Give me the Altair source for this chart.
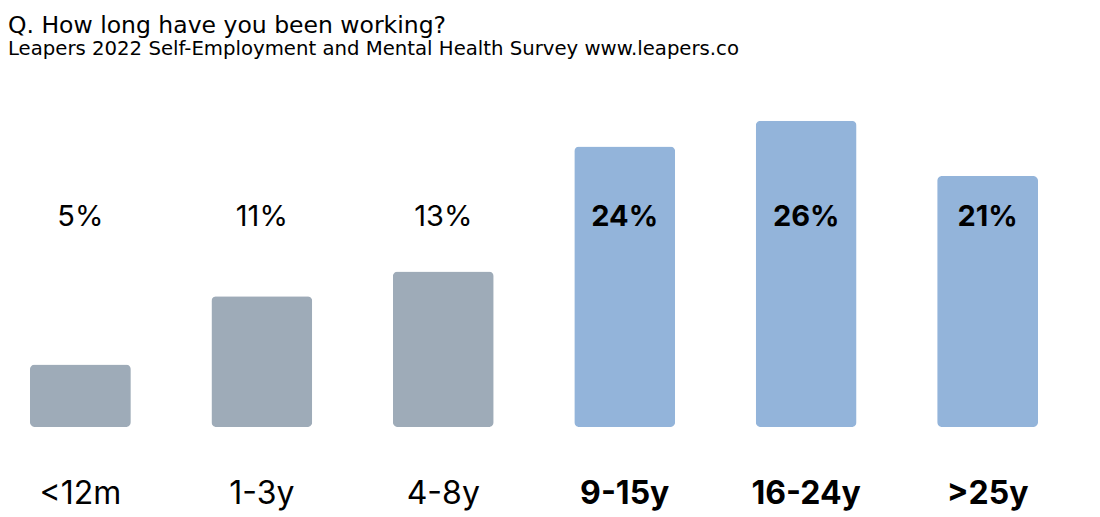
import altair as alt
import pandas as pd

categories = ["<12m", "1-3y", "4-8y", "9-15y", "16-24y", ">25y"]
shares = [5.3, 11.1, 13.2, 23.8, 26.0, 21.3]
labels = ["5%", "11%", "13%", "24%", "26%", "21%"]
highlight = [False, False, False, True, True, True]

df = pd.DataFrame({
    "category": categories,
    "share": shares,
    "label": labels,
    "hl": ["yes" if h else "no" for h in highlight],
})

FONT = "Inter"
x = alt.X("category:N", sort=categories, axis=None,
          scale=alt.Scale(paddingInner=0.444, paddingOuter=0.11))

bars = alt.Chart(df).mark_bar(cornerRadius=5).encode(
    x=x,
    y=alt.Y("share:Q", axis=None, scale=alt.Scale(domain=[0, 29.45], nice=False)),
    color=alt.Color("hl:N", legend=None,
                    scale=alt.Scale(domain=["no", "yes"], range=["#9eabb8", "#93b4da"])),
)

def texts(flag, weight):
    base = alt.Chart(df).transform_filter(alt.datum.hl == flag)
    vals = base.mark_text(font=FONT, fontSize=29, fontWeight=weight, color="black",
                          baseline="middle", align="center").encode(
        x=x, y=alt.value(137), text="label:N")
    cats = base.mark_text(font=FONT, fontSize=32, fontWeight=weight, color="black",
                          baseline="middle", align="center").encode(
        x=x, y=alt.value(414), text="category:N")
    return vals + cats

chart = alt.layer(bars, texts("no", "normal"), texts("yes", "bold")).properties(
    width=1048,
    height=347,
    title=alt.TitleParams(
        text="Q. How long have you been working?",
        subtitle="Leapers 2022 Self-Employment and Mental Health Survey www.leapers.co",
        anchor="start",
        font="DejaVu Sans", fontSize=23.5, fontWeight="normal", color="black",
        subtitleFont="DejaVu Sans", subtitleFontSize=19.7, subtitleColor="black",
        subtitlePadding=2, offset=21, dx=-2,
    ),
    padding={"left": 0, "right": 0, "top": 5, "bottom": 80},
).configure_view(stroke=None)

chart.save("out.html", embed_options={"renderer": "svg", "actions": False})
